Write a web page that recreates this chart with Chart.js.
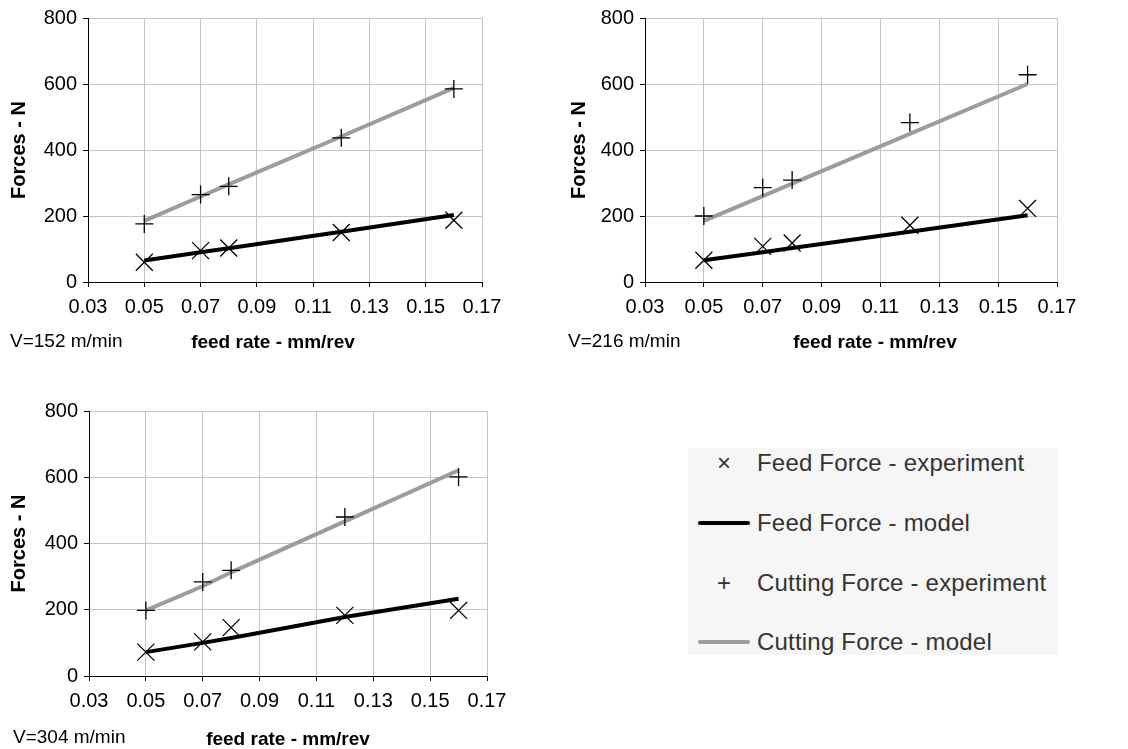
<!DOCTYPE html>
<html>
<head>
<meta charset="utf-8">
<script src="https://cdn.jsdelivr.net/npm/chart.js@4.4.0/dist/chart.umd.min.js"></script>
<style>
  body { margin: 0; width: 1128px; height: 749px; overflow: hidden; position: relative; background: #fff;
         font-family: "Liberation Sans", Arial, sans-serif; }
  canvas { position: absolute; }
  .vel { position: absolute; font-size: 19px; line-height: 22px; color: #000; white-space: nowrap; }
  .eixo { position: absolute; width: 240px; margin-left: -120px; text-align: center; font-size: 19px; line-height: 22px;
          font-weight: bold; color: #000; white-space: nowrap; }
  #legenda { position: absolute; left: 688px; top: 448px; width: 370px; height: 207px; background: #f6f6f6; }
  .item { position: absolute; left: 0; height: 30px; width: 370px; }
  .simbolo { position: absolute; left: 10px; top: 0; width: 52px; height: 30px; text-align: center;
             font-size: 24px; line-height: 30px; color: #333; }
  .linha { position: absolute; left: 0; top: 13px; width: 52px; height: 4px; border-radius: 2px; }
  .texto { position: absolute; left: 69px; top: 0; font-size: 24px; letter-spacing: 0.2px; line-height: 30px;
           color: #333; white-space: nowrap; }
</style>
</head>
<body>
<canvas id="g152" width="545" height="354" style="left:0px; top:0px"></canvas>
<canvas id="g216" width="537" height="354" style="left:560px; top:0px"></canvas>
<canvas id="g304" width="547" height="355" style="left:0px; top:393px"></canvas>
<div class="vel" style="left:10px; top:330px">V=152 m/min</div>
<div class="vel" style="left:568px; top:330px">V=216 m/min</div>
<div class="vel" style="left:13px; top:726px">V=304 m/min</div>
<div class="eixo" style="left:273px; top:331px">feed rate - mm/rev</div>
<div class="eixo" style="left:875px; top:331px">feed rate - mm/rev</div>
<div class="eixo" style="left:288px; top:728px">feed rate - mm/rev</div>
<div id="legenda"></div>

<script>
// dados
const taxas = [0.05, 0.07, 0.08, 0.12, 0.16];           // feed rate - mm/rev
const ticksX = [0.03, 0.05, 0.07, 0.09, 0.11, 0.13, 0.15, 0.17];
const ticksY = [0, 200, 400, 600, 800];
const nomes = ['Feed Force - experiment', 'Feed Force - model', 'Cutting Force - experiment', 'Cutting Force - model'];

// V=152 m/min
const feedExp152 = [60, 95, 103, 150, 187];
const feedMod152 = [65, 90, 102, 152, 203];
const cutExp152 = [176, 265, 290, 437, 585];
const cutMod152 = [185, 259, 296, 441, 588];

// V=216 m/min
const feedExp216 = [66, 108, 118, 172, 223];
const feedMod216 = [66, 90, 103, 152, 202];
const cutExp216 = [200, 286, 309, 483, 628];
const cutMod216 = [185, 260, 298, 449, 600];

// V=304 m/min
const feedExp304 = [72, 103, 146, 183, 198];
const feedMod304 = [72, 100, 115, 178, 233];
const cutExp304 = [198, 284, 319, 480, 601];
const cutMod304 = [198, 271, 313, 467, 621];

const cinza = '#9c9c9c';
const fonte = '"Liberation Sans", Arial, sans-serif';

function pontos(valores) {
  return valores.map((v, i) => ({ x: taxas[i], y: v }));
}

// cria um dos três gráficos; larguraY = espaço do eixo y, dirPad = sobra à direita
function criaGrafico(id, feedExp, feedMod, cutExp, cutMod, larguraY, dirPad) {
  const ctx = document.getElementById(id).getContext('2d');
  return new Chart(ctx, {
    type: 'line',
    data: {
      datasets: [
        { label: nomes[1], data: pontos(feedMod), borderColor: '#000', borderWidth: 4, pointRadius: 0, order: 3 },
        { label: nomes[3], data: pontos(cutMod), borderColor: cinza, borderWidth: 4, pointRadius: 0, order: 4 },
        { label: nomes[0], data: pontos(feedExp), showLine: false, pointStyle: 'crossRot', pointRadius: 12,
          pointBorderColor: '#000', pointBorderWidth: 1.3, order: 1 },
        { label: nomes[2], data: pontos(cutExp), showLine: false, pointStyle: 'cross', pointRadius: 9,
          pointBorderColor: '#000', pointBorderWidth: 1.3, order: 2 }
      ]
    },
    options: {
      responsive: false,
      animation: false,
      devicePixelRatio: 1,
      layout: { padding: { left: 0, top: 18, right: dirPad, bottom: 0 } },
      plugins: { legend: { display: false }, tooltip: { enabled: false } },
      scales: {
        x: {
          type: 'linear', min: 0.03, max: 0.17,
          afterBuildTicks: (eixo) => { eixo.ticks = ticksX.map(v => ({ value: v })); },
          afterFit: (eixo) => { eixo.height = 72; },
          ticks: { color: '#000', font: { family: fonte, size: 20 }, padding: 8, maxRotation: 0,
                   callback: (v) => Number(v).toFixed(2) },
          grid: { color: '#c4c4c4', tickColor: '#000', tickLength: 5 },
          border: { color: '#000', width: 1 }
        },
        y: {
          min: 0, max: 800,
          afterBuildTicks: (eixo) => { eixo.ticks = ticksY.map(v => ({ value: v })); },
          afterFit: (eixo) => { eixo.width = larguraY; },
          ticks: { color: '#000', font: { family: fonte, size: 20 }, padding: 6 },
          grid: { color: '#c4c4c4', tickColor: '#000', tickLength: 5 },
          border: { color: '#000', width: 1 },
          title: { display: true, text: 'Forces - N', color: '#000',
                   font: { family: fonte, size: 20, weight: 'bold' }, padding: { top: 7, bottom: 0 } }
        }
      }
    }
  });
}

criaGrafico('g152', feedExp152, feedMod152, cutExp152, cutMod152, 88, 63);
criaGrafico('g216', feedExp216, feedMod216, cutExp216, cutMod216, 85, 40);
criaGrafico('g304', feedExp304, feedMod304, cutExp304, cutMod304, 89, 60);

// legenda comum aos três gráficos
const legenda = document.getElementById('legenda');
const itens = [
  { nome: nomes[0], simbolo: '\u00d7' },
  { nome: nomes[1], cor: '#000' },
  { nome: nomes[2], simbolo: '+' },
  { nome: nomes[3], cor: cinza }
];
const centros = [15, 75, 135, 194];
itens.forEach((it, i) => {
  const d = document.createElement('div');
  d.className = 'item';
  d.style.top = (centros[i] - 15) + 'px';
  const s = document.createElement('div');
  s.className = 'simbolo';
  if (it.simbolo) {
    s.textContent = it.simbolo;
  } else {
    const l = document.createElement('div');
    l.className = 'linha';
    l.style.background = it.cor;
    s.appendChild(l);
  }
  const t = document.createElement('div');
  t.className = 'texto';
  t.textContent = it.nome;
  d.appendChild(s);
  d.appendChild(t);
  legenda.appendChild(d);
});
</script>
</body>
</html>
